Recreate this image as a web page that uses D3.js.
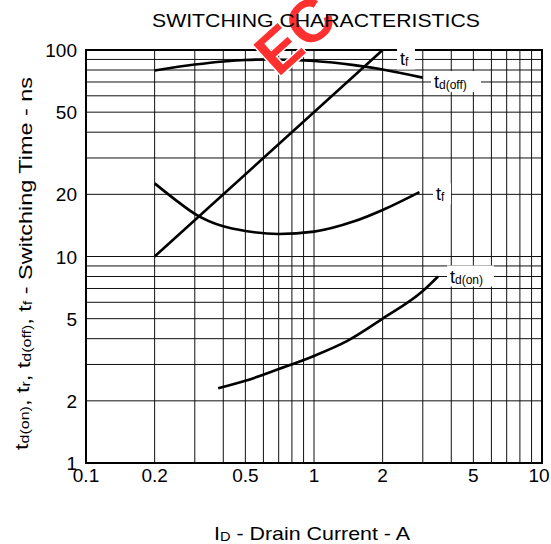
<!DOCTYPE html>
<html>
<head>
<meta charset="utf-8">
<script src="https://cdn.jsdelivr.net/npm/d3@7"></script>
<style>
  body { margin: 0; background: #fff; }
  svg { display: block; font-family: "Liberation Sans", Arial, sans-serif; }
</style>
</head>
<body>
<script>
// curve data (ID in A, time in ns)
var tdOffX = [0.2, 0.3, 0.4, 0.5, 0.65, 0.8, 1, 1.5, 2, 3];
var tdOffY = [79.5, 85, 88, 89.5, 90, 89.5, 88.5, 84.5, 80.5, 73.5];

var trX = [0.2, 2];
var trY = [10, 100];

var tfX = [0.2, 0.25, 0.3, 0.4, 0.5, 0.7, 1, 1.5, 2, 2.9];
var tfY = [22.6, 18.6, 16.1, 14.0, 13.3, 12.85, 13.2, 14.8, 16.8, 20.5];

var tdOnX = [0.38, 0.5, 0.7, 1, 1.4, 2, 3, 3.5];
var tdOnY = [2.3, 2.5, 2.85, 3.3, 3.9, 5.0, 6.8, 8.0];

var xTickLabels = [0.1, 0.2, 0.5, 1, 2, 5, 10];
var yTickLabels = [1, 2, 5, 10, 20, 50, 100];

var W = 551, H = 544;
var pLeft = 86, pTop = 50, pRight = 542, pBottom = 463;

var svg = d3.select("body").append("svg")
    .attr("width", W)
    .attr("height", H);

var x = d3.scaleLog().domain([0.1, 10]).range([pLeft, pRight]);
var y = d3.scaleLog().domain([1, 100]).range([pBottom, pTop]);

// grid (unrounded positions, so some lines come out grey like the scan)
var g = svg.append("g");
g.selectAll("line.vx")
  .data(x.ticks())
  .enter().append("line")
    .attr("class", "vx")
    .attr("x1", function(d) { return x(d); })
    .attr("x2", function(d) { return x(d); })
    .attr("y1", pTop).attr("y2", pBottom)
    .attr("stroke", "#111").attr("stroke-width", 1);
g.selectAll("line.hy")
  .data(y.ticks())
  .enter().append("line")
    .attr("class", "hy")
    .attr("y1", function(d) { return y(d); })
    .attr("y2", function(d) { return y(d); })
    .attr("x1", pLeft).attr("x2", pRight)
    .attr("stroke", "#111").attr("stroke-width", 1);

svg.append("rect")
    .attr("x", pLeft).attr("y", pTop)
    .attr("width", pRight - pLeft).attr("height", pBottom - pTop)
    .attr("fill", "none").attr("stroke", "#000").attr("stroke-width", 2);

// curves
var line = d3.line()
    .x(function(d) { return x(d[0]); })
    .y(function(d) { return y(d[1]); })
    .curve(d3.curveMonotoneX);

function draw(xs, ys) {
  svg.append("path")
    .datum(d3.zip(xs, ys))
    .attr("d", line)
    .attr("fill", "none")
    .attr("stroke", "#000")
    .attr("stroke-width", 2.6);
}
draw(tdOffX, tdOffY);
draw(trX, trY);
draw(tfX, tfY);
draw(tdOnX, tdOnY);

// watermark
svg.append("text")
    .attr("transform", "translate(278,78) rotate(-42)")
    .attr("font-size", 60).attr("font-weight", "bold")
    .attr("fill", "#ff3030")
    .attr("stroke", "#fff").attr("stroke-width", 3)
    .attr("paint-order", "stroke")
    .text("EC");

// curve labels with white boxes
function label(px, py, main, sub, w) {
  var lg = svg.append("g").attr("transform", "translate(" + px + "," + py + ")");
  lg.append("rect").attr("x", -3).attr("y", -11).attr("width", w).attr("height", 21).attr("fill", "#fff");
  var t = lg.append("text").attr("y", 6).attr("font-size", 18);
  t.append("tspan").text(main);
  t.append("tspan").attr("font-size", 12).attr("dy", 1).text(sub);
}
label(400, y(90), "t", "f", 18);
label(434, y(70), "t", "d(off)", 50);
label(436, y(20), "t", "f", 18);
label(450, y(8), "t", "d(on)", 47);

// tick labels
svg.selectAll("text.xt")
  .data(xTickLabels)
  .enter().append("text")
    .attr("class", "xt")
    .attr("x", function(d) { return Math.min(x(d), W - 12); })
    .attr("y", 482)
    .attr("text-anchor", "middle")
    .attr("font-size", 19)
    .text(function(d) { return d; });

svg.selectAll("text.yt")
  .data(yTickLabels)
  .enter().append("text")
    .attr("class", "yt")
    .attr("x", 77)
    .attr("y", function(d) { return y(d) + 7; })
    .attr("text-anchor", "end")
    .attr("font-size", 19)
    .text(function(d) { return d; });

// title
svg.append("text")
    .attr("x", 152).attr("y", 27)
    .attr("font-size", 19)
    .attr("textLength", 328)
    .attr("lengthAdjust", "spacingAndGlyphs")
    .text("SWITCHING CHARACTERISTICS");

// x axis title
var xt = svg.append("text")
    .attr("x", 214).attr("y", 540)
    .attr("font-size", 19)
    .attr("textLength", 196)
    .attr("lengthAdjust", "spacingAndGlyphs");
xt.append("tspan").text("I");
xt.append("tspan").attr("font-size", 13).attr("dy", 1).text("D");
xt.append("tspan").attr("dy", -1).text(" - Drain Current - A");

// y axis title
var yt = svg.append("text")
    .attr("transform", "translate(28,450) rotate(-90)")
    .attr("font-size", 19)
    .attr("textLength", 373)
    .attr("lengthAdjust", "spacingAndGlyphs");
var parts = [["t", "d(on)"], [", t", "r"], [", t", "d(off)"], [", t", "f"]];
parts.forEach(function(p) {
  yt.append("tspan").text(p[0]);
  yt.append("tspan").attr("font-size", 13).attr("dy", 1).text(p[1]);
  yt.append("tspan").attr("dy", -1).text("");
});
yt.append("tspan").text(" - Switching Time - ns");
</script>
</body>
</html>
